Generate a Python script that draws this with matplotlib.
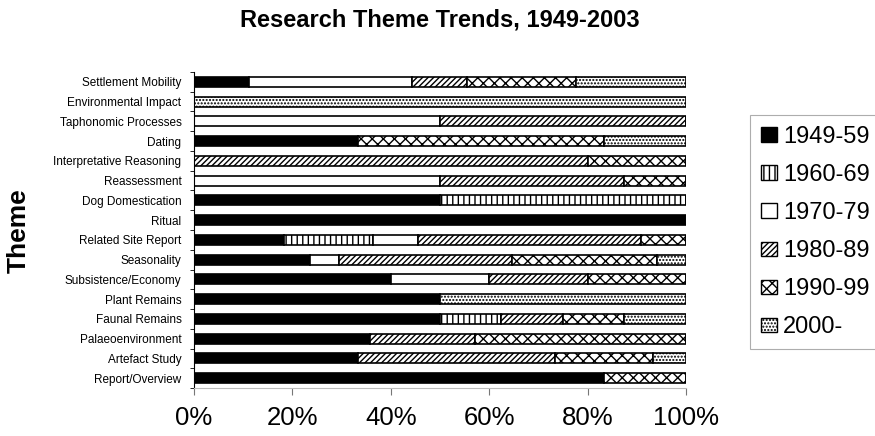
import matplotlib
matplotlib.use("Agg")
import matplotlib.pyplot as plt
import numpy as np
from matplotlib.patches import Patch

plt.rcParams['font.family'] = ['Liberation Sans', 'DejaVu Sans']
plt.rcParams['hatch.linewidth'] = 1.0

# Теми знизу вгору (як на осі)
themes = ['Report/Overview', 'Artefact Study', 'Palaeoenvironment', 'Faunal Remains',
          'Plant Remains', 'Subsistence/Economy', 'Seasonality', 'Related Site Report',
          'Ritual', 'Dog Domestication', 'Reassessment', 'Interpretative Reasoning',
          'Dating', 'Taphonomic Processes', 'Environmental Impact', 'Settlement Mobility']

periods = ['1949-59', '1960-69', '1970-79', '1980-89', '1990-99', '2000-']

# Частки (%) для кожного періоду, у порядку тем вище
p1949 = [83.3, 33.3, 35.7, 50.0, 50.0, 40.0, 23.5, 18.2, 100.0, 50.0, 0, 0, 33.3, 0, 0, 11.1]
p1960 = [0, 0, 0, 12.5, 0, 0, 0, 18.2, 0, 50.0, 0, 0, 0, 0, 0, 0]
p1970 = [0, 0, 0, 0, 0, 20.0, 5.9, 9.1, 0, 0, 50.0, 0, 0, 50.0, 0, 33.3]
p1980 = [0, 40.0, 21.4, 12.5, 0, 20.0, 35.3, 45.4, 0, 0, 37.5, 80.0, 0, 50.0, 0, 11.1]
p1990 = [16.7, 20.0, 42.9, 12.5, 0, 20.0, 29.4, 9.1, 0, 0, 12.5, 20.0, 50.0, 0, 0, 22.2]
p2000 = [0, 6.7, 0, 12.5, 50.0, 0, 5.9, 0, 0, 0, 0, 0, 16.7, 0, 100.0, 22.2]

series = [p1949, p1960, p1970, p1980, p1990, p2000]
faces = ['black', 'white', 'white', 'white', 'white', 'white']
hatches = [None, '|||', None, '//////', 'xxx', '.....']

fig = plt.figure(figsize=(8.75, 4.36), dpi=100)
ax = fig.add_axes([0.2217, 0.110, 0.5623, 0.725])

y = np.arange(len(themes))
left = np.zeros(len(themes))
for vals, fc, h in zip(series, faces, hatches):
    vals = np.array(vals)
    ax.barh(y, vals, left=left, height=0.5, color=fc, edgecolor='black',
            hatch=h, linewidth=1.2)
    left += vals

ax.set_xlim(0, 100)
ax.set_ylim(-0.5, len(themes) - 0.5)
ax.set_yticks(y)
ax.set_yticklabels(themes, fontsize=8.5)
ax.set_yticks(np.arange(-0.5, len(themes), 1), minor=True)
ax.tick_params(axis='y', which='major', length=0, pad=9)
ax.tick_params(axis='y', which='minor', length=3, direction='out')
ax.set_xticks(np.arange(0, 101, 20))
ax.set_xticklabels([f'{v}%' for v in range(0, 101, 20)], fontsize=18.5)
ax.tick_params(axis='x', length=5, color='#777777', width=0.8, pad=8)

for s in ['top', 'right']:
    ax.spines[s].set_visible(False)
ax.spines['bottom'].set_color('#bbbbbb')
ax.spines['bottom'].set_linewidth(0.8)
ax.spines['left'].set_linewidth(0.8)

fig.text(0.503, 0.953, 'Research Theme Trends, 1949-2003', ha='center', va='center',
         fontsize=17, fontweight='bold')
fig.text(0.022, 0.472, 'Theme', rotation=90, ha='center', va='center',
         fontsize=19, fontweight='bold')

handles = [Patch(facecolor=fc, edgecolor='black', hatch=h, label=lab)
           for fc, h, lab in zip(faces, hatches, periods)]
leg = fig.legend(handles=handles, loc='center left', bbox_to_anchor=(0.857, 0.468),
                 fontsize=17, frameon=True, fancybox=False, handlelength=0.7,
                 handleheight=0.55, handletextpad=0.25, labelspacing=0.68,
                 borderpad=0.45, borderaxespad=0)
leg.get_frame().set_edgecolor('#999999')
leg.get_frame().set_linewidth(0.8)

plt.savefig('out.png', dpi=100)
